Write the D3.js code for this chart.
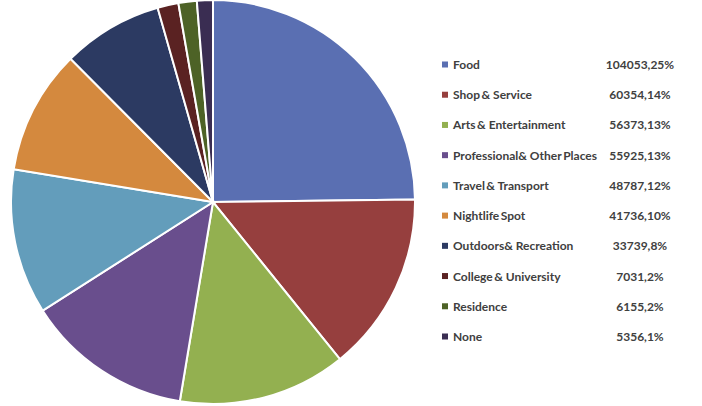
<!DOCTYPE html>
<html>
<head>
<meta charset="utf-8">
<script src="https://cdn.jsdelivr.net/npm/d3@7/dist/d3.min.js"></script>
<style>
  html, body { margin: 0; padding: 0; background: #fff; }
  svg { display: block; }
  text { font-family: Lato, "Open Sans", "Liberation Sans", sans-serif; font-weight: bold; fill: #404040; }
</style>
</head>
<body>
<svg id="chart" width="702" height="406"></svg>
<script>
// Check-in counts per venue category
const categories = ["Food", "Shop & Service", "Arts & Entertainment", "Professional & Other Places",
  "Travel & Transport", "Nightlife Spot", "Outdoors & Recreation", "College & University",
  "Residence", "None"];
const labels = ["Food", "Shop\u2009& Service", "Arts\u2009& Entertainment", "Professional& Other\u2009Places",
  "Travel\u2009& Transport", "Nightlife\u2009Spot", "Outdoors& Recreation", "College\u2009& University",
  "Residence", "None"];
const values = [104053, 60354, 56373, 55925, 48787, 41736, 33739, 7031, 6155, 5356];
const percents = ["25%", "14%", "13%", "13%", "12%", "10%", "8%", "2%", "2%", "1%"];
const colors = ["#5a6fb2", "#963f3e", "#93b050", "#694e8d", "#639dbb", "#d4893e",
  "#2c3a62", "#5a2222", "#4d6226", "#3a2d52"];

const svg = d3.select("#chart");
const cx = 213, cy = 202, r = 202;

const pie = d3.pie().sort(null).value(d => d.value);
const arc = d3.arc().innerRadius(0).outerRadius(r);
const data = categories.map((c, i) => ({ cat: c, value: values[i], color: colors[i] }));

svg.append("g")
  .attr("transform", `translate(${cx},${cy})`)
  .selectAll("path")
  .data(pie(data))
  .join("path")
  .attr("d", arc)
  .attr("fill", d => d.data.color)
  .attr("stroke", "#fff")
  .attr("stroke-width", 2);

// Legend
const rowY = d3.scaleLinear().domain([0, categories.length - 1]).range([65, 337]);
const legend = svg.append("g");
const rows = legend.selectAll("g")
  .data(data)
  .join("g")
  .attr("transform", (d, i) => `translate(0,${rowY(i)})`);

rows.append("rect")
  .attr("x", 442).attr("y", -3.5)
  .attr("width", 6).attr("height", 6)
  .attr("fill", d => d.color);

rows.append("text")
  .attr("x", 453).attr("y", 4)
  .attr("font-size", 12)
  .text((d, i) => labels[i]);

rows.append("text")
  .attr("x", 640).attr("y", 4)
  .attr("text-anchor", "middle")
  .attr("font-size", 12)
  .text((d, i) => `${values[i]},${percents[i]}`);
</script>
</body>
</html>
